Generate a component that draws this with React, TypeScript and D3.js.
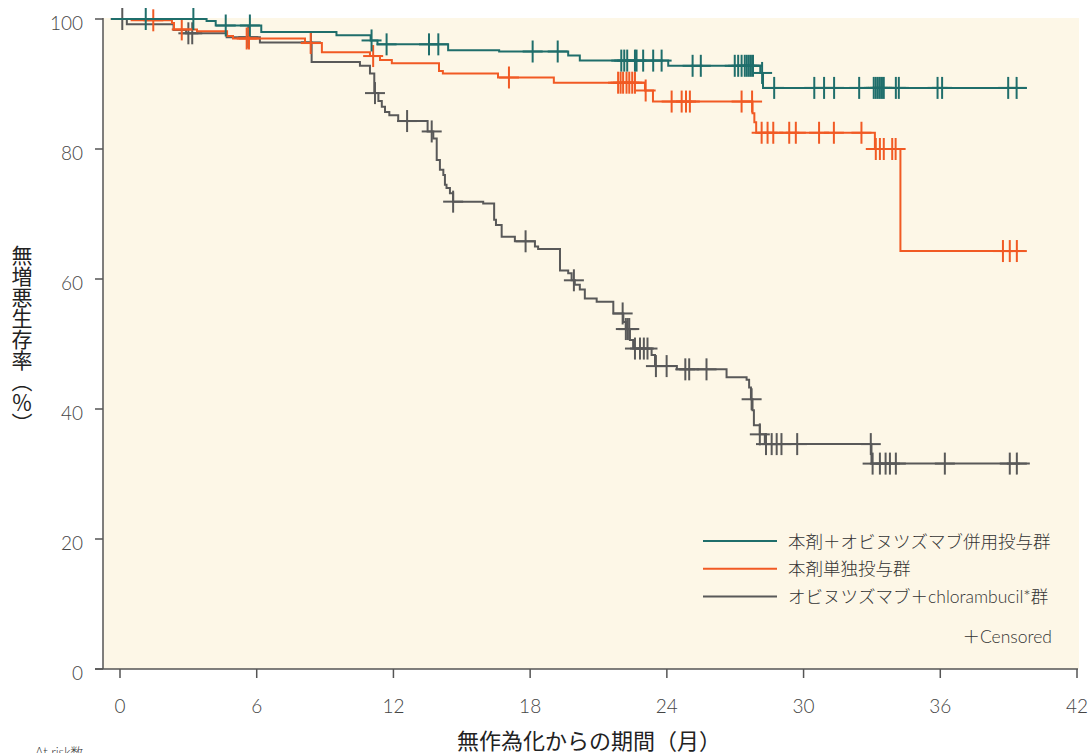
import React from 'react';
import * as d3 from 'd3';

// 本剤＋オビヌツズマブ併用投与群: [month, %] at each drop
const comboSteps: [number, number][] = [
  [-0.4, 100], [3.8, 99.7], [4.2, 99.0], [6.2, 98.0], [9.5, 97.5], [11.0, 96.7], [11.3, 96.1],
  [14.4, 95.2], [16.64, 95.0], [19.67, 94.4], [20.18, 93.6], [24.06, 92.8], [28.1, 91.7], [28.22, 89.4],
];
const comboEnd = 39.8;
const comboCensored = [
  1.13, 3.22, 4.64, 5.7, 11.04, 11.7, 13.56, 13.97, 18.11, 19.21, 22.0, 22.13, 22.26, 22.6, 22.67, 22.96,
  23.4, 23.77, 25.13, 25.49, 26.98, 27.13, 27.28, 27.42, 27.51, 27.6, 27.69, 27.78, 28.18, 28.71, 30.47,
  30.9, 31.34, 32.44, 33.08, 33.17, 33.26, 33.35, 33.44, 33.52, 34.05, 34.18, 35.88, 36.08, 38.98, 39.35,
];

// 本剤単独投与群
const monoSteps: [number, number][] = [
  [-0.4, 100], [0.51, 99.8], [2.28, 99.4], [2.37, 98.4], [3.38, 98.1], [4.7, 97.4], [4.96, 97.0],
  [8.12, 96.3], [8.86, 94.9], [10.97, 94.3], [11.41, 93.7], [11.93, 93.2], [14.0, 92.0], [14.17, 91.6],
  [16.59, 91.0], [19.04, 90.2], [23.04, 89.0], [23.39, 87.3], [27.76, 85.5], [27.84, 84.1], [27.92, 82.5],
  [33.13, 80.0], [34.25, 64.3],
];
const monoEnd = 39.7;
const monoCensored = [
  1.46, 2.71, 5.56, 5.66, 8.37, 11.11, 17.07, 21.86, 21.97, 22.08, 22.23, 22.35, 22.48, 22.6, 23.07, 24.21,
  24.65, 24.84, 25.01, 27.28, 27.74, 28.16, 28.42, 28.67, 29.37, 29.66, 30.68, 31.33, 32.54, 33.17, 33.35,
  33.52, 33.89, 34.04, 38.75, 39.05, 39.36,
];

// オビヌツズマブ＋chlorambucil*群
const chlSteps: [number, number][] = [
  [-0.4, 100], [0.3, 99.2], [2.35, 98.3], [2.9, 97.8], [4.68, 97.2], [6.14, 96.4], [8.41, 93.4],
  [10.53, 92.8], [10.97, 91.6], [11.16, 88.6], [11.34, 87.4], [11.49, 86.5], [11.63, 85.7], [11.82, 85.2],
  [12.21, 84.3], [13.5, 82.7], [13.75, 81.6], [13.9, 78.3], [14.04, 76.8], [14.19, 76.0], [14.26, 74.5],
  [14.33, 74.0], [14.48, 73.2], [14.62, 71.9], [15.94, 71.6], [16.42, 69.1], [16.5, 68.3], [16.75, 66.5],
  [17.33, 65.8], [18.21, 65.0], [18.35, 64.6], [19.31, 61.3], [19.67, 60.9], [19.82, 59.8], [19.96, 59.1],
  [20.18, 58.4], [20.4, 57.0], [20.92, 56.5], [21.65, 54.7], [22.09, 53.4], [22.2, 52.3], [22.38, 50.6],
  [22.52, 49.3], [23.33, 48.3], [23.48, 46.6], [24.44, 46.1], [26.62, 44.9], [27.5, 44.5], [27.61, 43.3],
  [27.69, 41.5], [27.76, 39.8], [27.82, 37.5], [28.08, 36.1], [28.3, 34.6], [32.98, 31.6],
];
const chlEnd = 39.93;
const chlCensored = [
  0.1, 3.0, 3.17, 5.63, 8.38, 11.19, 12.6, 13.68, 14.62, 17.8, 19.92, 22.06, 22.2, 22.28, 22.35, 22.6,
  22.82, 22.99, 23.15, 23.52, 23.99, 24.81, 24.98, 25.74, 27.72, 28.08, 28.35, 28.6, 28.82, 29.03, 29.72,
  32.95, 33.03, 33.35, 33.6, 33.79, 34.05, 36.2, 39.05, 39.36,
];

const xTicks = [0, 6, 12, 18, 24, 30, 36, 42];
const yTicks = [0, 20, 40, 60, 80, 100];

const series = [
  { name: 'オビヌツズマブ＋chlorambucil*群', steps: chlSteps, end: chlEnd, censored: chlCensored, color: '#595959' },
  { name: '本剤単独投与群', steps: monoSteps, end: monoEnd, censored: monoCensored, color: '#f15a24' },
  { name: '本剤＋オビヌツズマブ併用投与群', steps: comboSteps, end: comboEnd, censored: comboCensored, color: '#1f6e6b' },
];
const legendOrder = [2, 1, 0];

const font = 'Lato, "Noto Sans CJK JP", sans-serif';
const cjk = '"Noto Sans CJK JP", sans-serif';

export default function App() {
  const x = d3.scaleLinear().domain([0, 42]).range([120, 1077]);
  const y = d3.scaleLinear().domain([0, 100]).range([669, 19]);
  const line = d3
    .line<[number, number]>()
    .x((d) => x(d[0]))
    .y((d) => y(d[1]))
    .curve(d3.curveStepAfter);

  const levelAt = (steps: [number, number][], t: number) => {
    let v = steps[0][1];
    for (const s of steps) if (s[0] <= t) v = s[1];
    return v;
  };

  return (
    <svg width={1091} height={753} style={{ position: 'absolute', left: 0, top: 0, fontFamily: font, fontWeight: 300 }}>
      <rect x={103} y={18} width={976} height={651} fill='#fdf7e7' />

      {/* y axis */}
      <line x1={103} x2={103} y1={18} y2={669} stroke='#555' strokeWidth={1.5} />
      {yTicks.map((t) => (
        <g key={t}>
          <line x1={95} x2={103} y1={y(t)} y2={y(t)} stroke='#555' strokeWidth={1.5} />
          <text x={83} y={y(t) + 3} textAnchor='end' dominantBaseline='central' fontSize={19} fill='#444'>
            {t}
          </text>
        </g>
      ))}

      {/* x axis */}
      <line x1={95} x2={1078} y1={669} y2={669} stroke='#555' strokeWidth={1.5} />
      {xTicks.map((t) => (
        <g key={t}>
          <line x1={x(t)} x2={x(t)} y1={669} y2={678} stroke='#555' strokeWidth={1.5} />
          <text x={x(t)} y={705} textAnchor='middle' dominantBaseline='central' fontSize={19} fill='#444'>
            {t}
          </text>
        </g>
      ))}

      {/* curves */}
      {series.map((s) => {
        const pts: [number, number][] = [...s.steps, [s.end, s.steps[s.steps.length - 1][1]]];
        return (
          <g key={s.name}>
            <path d={line(pts) ?? ''} fill='none' stroke={s.color} strokeWidth={2} />
            {s.censored.map((t, i) => {
              const cx = x(t);
              const cy = y(levelAt(s.steps, t));
              return (
                <g key={i} stroke={s.color} strokeWidth={2}>
                  <line x1={cx - 10} x2={cx + 10} y1={cy} y2={cy} />
                  <line x1={cx} x2={cx} y1={cy - 11} y2={cy + 11} />
                </g>
              );
            })}
          </g>
        );
      })}

      {/* legend */}
      {legendOrder.map((idx, i) => {
        const s = series[idx];
        const ly = 541 + i * 27.8;
        return (
          <g key={s.name}>
            <line x1={703} x2={777} y1={ly} y2={ly} stroke={s.color} strokeWidth={2} />
            <text x={788} y={ly} dominantBaseline='central' fontSize={17.5} fill='#333'>
              {s.name}
            </text>
          </g>
        );
      })}
      <text x={1052} y={636} textAnchor='end' dominantBaseline='central' fontSize={17.5} fill='#333'>
        ＋Censored
      </text>

      {/* axis titles */}
      <text x={589} y={739} textAnchor='middle' dominantBaseline='central' fontSize={22} fontWeight={400} fill='#222' fontFamily={cjk}>
        無作為化からの期間（月）
      </text>
      <text
        x={22}
        y={245}
        fontSize={21}
        fontWeight={400}
        fill='#222'
        fontFamily={cjk}
        style={{ writingMode: 'vertical-rl', textOrientation: 'mixed' }}
      >
        無増悪生存率（％）
      </text>
      <text x={35} y={757} fontSize={13} fill='#333'>
        At risk数
      </text>
    </svg>
  );
}
